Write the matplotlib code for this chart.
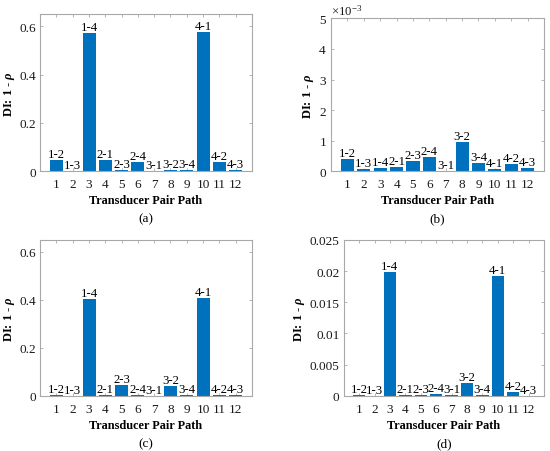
import matplotlib
matplotlib.use('Agg')
import matplotlib.pyplot as plt
from matplotlib.ticker import FuncFormatter

plt.rcParams['font.family'] = ['Liberation Serif', 'DejaVu Serif']
plt.rcParams['mathtext.fontset'] = 'custom'
plt.rcParams['mathtext.rm'] = 'Liberation Serif'
plt.rcParams['mathtext.it'] = 'Liberation Serif:italic:bold'
plt.rcParams['mathtext.bf'] = 'Liberation Serif:bold'

# path index and transducer pair labels
paths = list(range(1, 13))
pair_labels = ['1-2', '1-3', '1-4', '2-1', '2-3', '2-4',
               '3-1', '3-2', '3-4', '4-1', '4-2', '4-3']

# DI values
di_a = [0.047, 0.002, 0.572, 0.045, 0.003, 0.040, 0.001, 0.003, 0.006, 0.575, 0.040, 0.006]
di_b = [0.39e-3, 0.07e-3, 0.09e-3, 0.15e-3, 0.32e-3, 0.46e-3,
        0.01e-3, 0.95e-3, 0.27e-3, 0.06e-3, 0.22e-3, 0.11e-3]
di_c = [0.002, 0.0005, 0.404, 0.002, 0.044, 0.002, 0.001, 0.043, 0.002, 0.406, 0.002, 0.003]
di_d = [0.0001, 0.00005, 0.0198, 0.0001, 0.0001, 0.0003,
        0.0001, 0.0021, 0.0001, 0.0192, 0.0006, 0.00005]

ylims = [0.65, 5e-3, 0.65, 0.025]
yticks = [[0, 0.2, 0.4, 0.6], [0, 1e-3, 2e-3, 3e-3, 4e-3, 5e-3],
          [0, 0.2, 0.4, 0.6], [0, 0.005, 0.01, 0.015, 0.02, 0.025]]
captions = ['(a)', '(b)', '(c)', '(d)']

bar_color = '#0072BD'
edge_gray = '#a8a8a8'
text_col = '#1a1a1a'

fig = plt.figure(figsize=(5.5, 4.52), dpi=100)
# axes boxes [left, bottom, width, height] in figure fraction
boxes = [[0.073, 0.619, 0.385, 0.347],
         [0.602, 0.619, 0.387, 0.338],
         [0.073, 0.122, 0.385, 0.345],
         [0.625, 0.122, 0.364, 0.345]]

all_data = [di_a, di_b, di_c, di_d]
for k in range(4):
    ax = fig.add_axes(boxes[k])
    data = all_data[k]
    ax.bar(paths, data, width=0.8, color=bar_color, zorder=2)
    for x, v, lab in zip(paths, data, pair_labels):
        ax.text(x, v, lab, ha='center', va='bottom', fontsize=9.2, color='black')
    ax.set_xlim(0, 13)
    ax.set_ylim(0, ylims[k])
    ax.set_xticks(paths)
    ax.set_yticks(yticks[k])
    if k == 1:
        ax.ticklabel_format(axis='y', style='sci', scilimits=(0, 0), useMathText=True)
        ax.yaxis.get_offset_text().set_fontsize(9.2)
        ax.yaxis.get_offset_text().set_color(text_col)
    else:
        ax.yaxis.set_major_formatter(FuncFormatter(lambda v, p: '%g' % v))
    ax.tick_params(direction='in', length=2, width=0.6, top=True, right=True,
                   labelsize=9.5, colors=edge_gray, labelcolor=text_col, pad=3)
    ax.tick_params(axis='x', pad=5)
    for s in ax.spines.values():
        s.set_color(edge_gray)
        s.set_linewidth(0.8)
    ax.set_xlabel('Transducer Pair Path', fontsize=8.8, fontweight='bold', labelpad=3)
    ax.set_ylabel(r'DI: 1 - $\rho$', fontsize=9, fontweight='bold', labelpad=2)
    cx = boxes[k][0] + boxes[k][2] / 2
    cy = boxes[k][1] - 0.105
    fig.text(cx, cy, captions[k], ha='center', va='center', fontsize=9.5)

fig.savefig('out.png', dpi=100)
